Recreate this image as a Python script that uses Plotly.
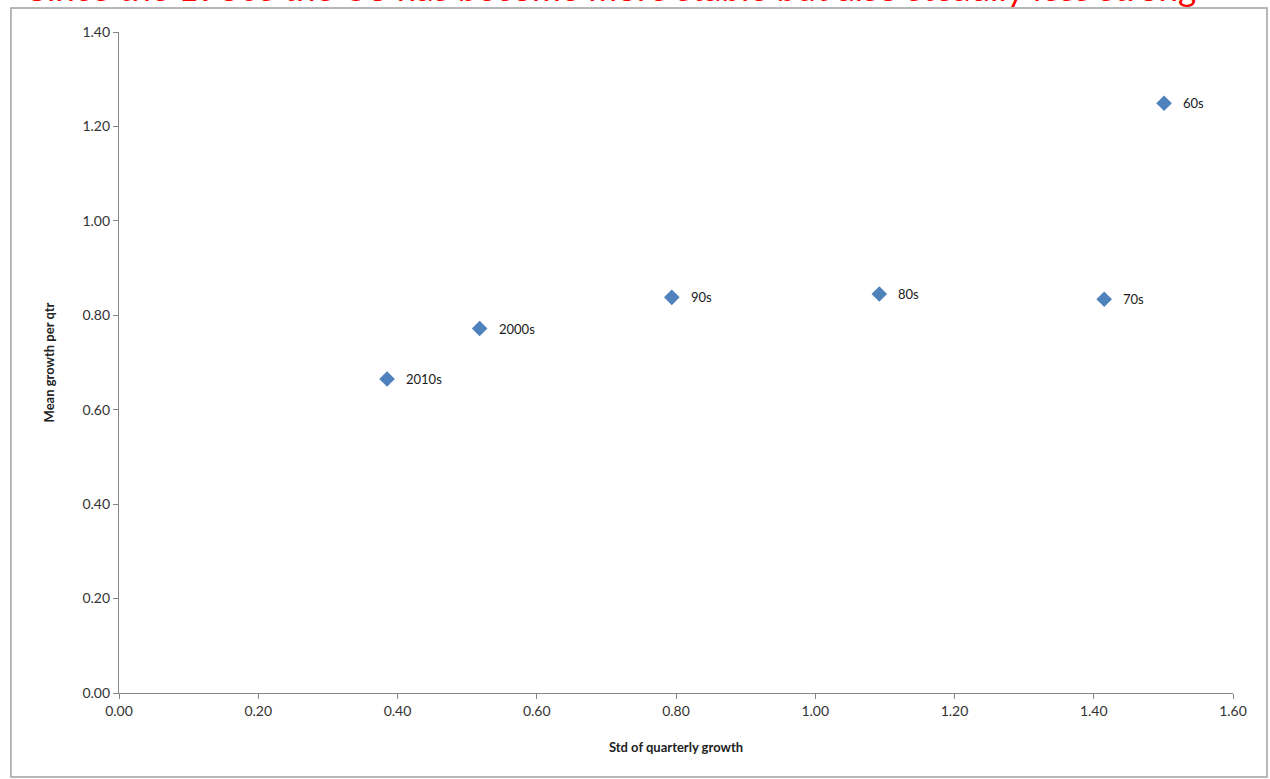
import plotly.graph_objects as go

# Decade averages of quarterly growth: volatility vs. mean
decades = ["2010s", "2000s", "90s", "80s", "70s", "60s"]
std_growth = [0.385, 0.518, 0.794, 1.092, 1.415, 1.501]
mean_growth = [0.665, 0.772, 0.838, 0.845, 0.834, 1.249]

x_ticks = [0.0, 0.2, 0.4, 0.6, 0.8, 1.0, 1.2, 1.4, 1.6]
y_ticks = [0.0, 0.2, 0.4, 0.6, 0.8, 1.0, 1.2, 1.4]

title_text = "Since the 1960s the US has become more stable but also steadily less strong"

FONT = "Lato, 'Open Sans', sans-serif"
AXIS_GREY = "#868686"

fig = go.Figure()

fig.add_trace(go.Scatter(
    x=std_growth,
    y=mean_growth,
    mode="markers",
    marker=dict(symbol="diamond", size=12, color="#4F81BD",
                line=dict(width=0)),
    hoverinfo="x+y",
    showlegend=False,
))

annotations = []
for name, xv, yv in zip(decades, std_growth, mean_growth):
    annotations.append(dict(
        x=xv, y=yv, xref="x", yref="y", text=name, showarrow=False,
        xanchor="left", yanchor="middle", xshift=17,
        font=dict(family=FONT, size=13, color="#1a1a1a"),
    ))

fig.update_layout(
    width=1270,
    height=779,
    margin=dict(l=119, r=37, t=32, b=86),
    paper_bgcolor="white",
    plot_bgcolor="white",
    font=dict(family=FONT, color="#333333"),
    # Headline baseline sits on the top edge: only the descenders show
    title=dict(
        text=title_text,
        xref="container", yref="container",
        x=0.482, xanchor="center",
        y=0.9985, yanchor="bottom",
        pad=dict(t=0, b=0, l=0, r=0),
        font=dict(family=FONT, size=35, color="#FF0000"),
    ),
    annotations=annotations,
    shapes=[dict(
        type="rect", xref="paper", yref="paper",
        x0=-0.097, x1=1.0305, y0=-0.127, y1=1.0363,
        line=dict(color="#A0A0A0", width=1.5), layer="below",
    )],
)

fig.update_xaxes(
    range=[0, 1.6],
    tickvals=x_ticks,
    ticktext=[f"{v:.2f}" for v in x_ticks],
    showgrid=False, zeroline=False,
    showline=True, linecolor=AXIS_GREY, linewidth=1.3,
    ticks="outside", ticklen=5, tickcolor=AXIS_GREY,
    tickfont=dict(family=FONT, size=14, color="#333333"),
    title=dict(text="<b>Std of quarterly growth</b>", standoff=24,
               font=dict(family=FONT, size=13, color="#222222")),
)

fig.update_yaxes(
    range=[0, 1.4],
    tickvals=y_ticks,
    ticktext=[f"{v:.2f}" for v in y_ticks],
    showgrid=False, zeroline=False,
    showline=True, linecolor=AXIS_GREY, linewidth=1.3,
    ticks="outside", ticklen=5, tickcolor=AXIS_GREY,
    tickfont=dict(family=FONT, size=14, color="#333333"),
    title=dict(text="<b>Mean growth per qtr</b>", standoff=24,
               font=dict(family=FONT, size=13, color="#222222")),
)

fig.write_html("out.html")
